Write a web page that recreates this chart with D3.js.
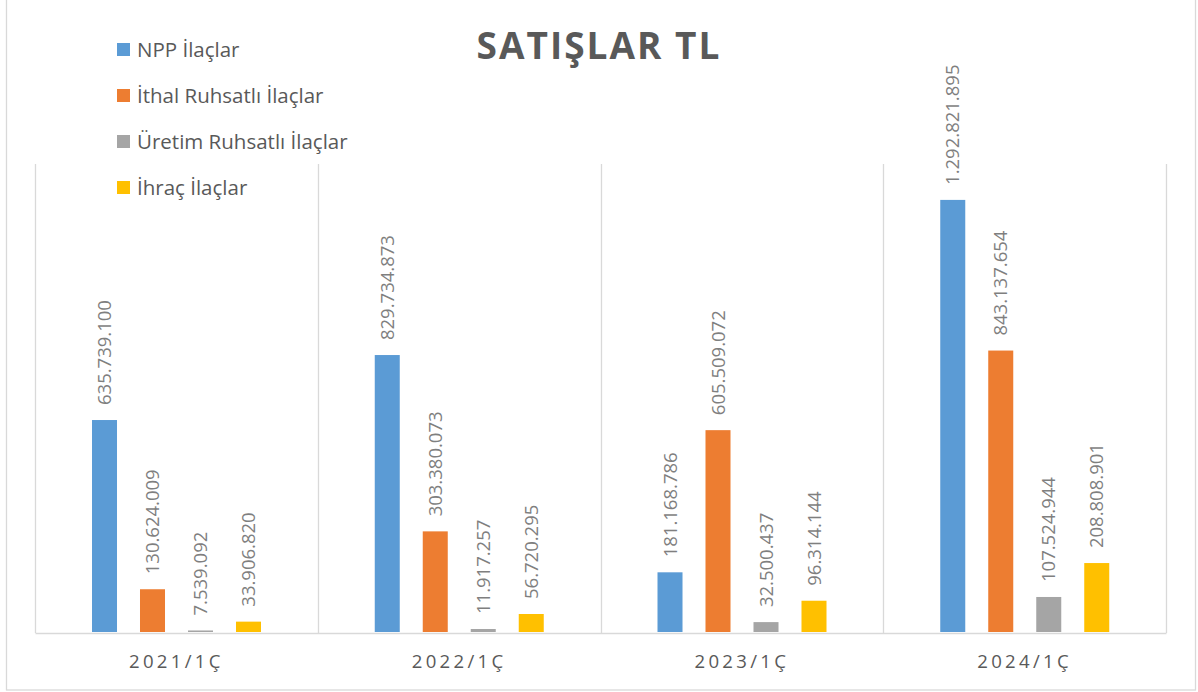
<!DOCTYPE html>
<html>
<head>
<meta charset="utf-8">
<script src="https://cdn.jsdelivr.net/npm/d3@7"></script>
<style>
    body { margin: 0; background: #fff; }
    #chart { width: 1198px; height: 692px; }
    text { font-family: "Open Sans", "Noto Sans", sans-serif; }
</style>
</head>
<body>
<div id="chart"></div>
<script>

// data
let periods = ['2021/1Ç', '2022/1Ç', '2023/1Ç', '2024/1Ç'];
let seriesNames = ['NPP İlaçlar', 'İthal Ruhsatlı İlaçlar', 'Üretim Ruhsatlı İlaçlar', 'İhraç İlaçlar'];
let nppValues = [635739100, 829734873, 181168786, 1292821895];
let ithalValues = [130624009, 303380073, 605509072, 843137654];
let uretimValues = [7539092, 11917257, 32500437, 107524944];
let ihracValues = [33906820, 56720295, 96314144, 208808901];
let colors = ['#5B9BD5', '#ED7D31', '#A5A5A5', '#FFC000'];
let yMax = 1400000000;


class SalesChart {

    constructor(parentElement) {
        this.parentElement = parentElement;
        this.series = [nppValues, ithalValues, uretimValues, ihracValues];
        this.initVis();
    }

    initVis() {
        let vis = this;

        vis.width = 1198;
        vis.height = 692;
        vis.plot = {left: 35, right: 1166, top: 164, bottom: 633};

        vis.svg = d3.select('#' + vis.parentElement).append('svg')
            .attr('width', vis.width)
            .attr('height', vis.height);

        // chart border
        vis.svg.append('rect')
            .attr('x', 6.5)
            .attr('y', -2)
            .attr('width', 1189)
            .attr('height', 692)
            .attr('fill', 'none')
            .attr('stroke', '#d9d9d9')
            .attr('stroke-width', 1.3);

        // title
        vis.svg.append('text')
            .text('SATIŞLAR TL')
            .attr('x', vis.width / 2)
            .attr('y', 59)
            .attr('text-anchor', 'middle')
            .attr('font-size', '37px')
            .attr('font-weight', 'bold')
            .attr('letter-spacing', '2px')
            .attr('fill', '#595959');

        vis.formatter = d3.formatLocale({decimal: ',', thousands: '.', grouping: [3], currency: ['', '']}).format(',d');

        vis.x0 = d3.scaleBand()
            .domain(periods)
            .range([vis.plot.left, vis.plot.right]);

        vis.x1 = d3.scaleBand()
            .domain(seriesNames)
            .range([57, 226])
            .paddingInner(0.479);

        vis.y = d3.scaleLinear()
            .domain([0, yMax])
            .range([vis.plot.bottom, vis.plot.top]);

        vis.drawGrid();
        vis.drawBars();
        vis.drawLegend();
    }

    drawGrid() {
        let vis = this;

        // vertical lines between categories
        let edges = periods.map(p => vis.x0(p)).concat([vis.plot.right]);
        vis.svg.append('g').selectAll('line')
            .data(edges)
            .enter().append('line')
            .attr('x1', d => Math.round(d) + 0.5)
            .attr('x2', d => Math.round(d) + 0.5)
            .attr('y1', vis.plot.top)
            .attr('y2', vis.plot.bottom)
            .attr('stroke', '#d9d9d9')
            .attr('stroke-width', 1.3);

        // category axis
        let xAxis = d3.axisBottom(vis.x0).tickSize(0).tickPadding(22);
        let axisGroup = vis.svg.append('g')
            .attr('class', 'axis x-axis')
            .attr('transform', `translate(0, ${vis.plot.bottom})`)
            .call(xAxis);

        axisGroup.select('.domain')
            .attr('stroke', '#d9d9d9')
            .attr('stroke-width', 1.6);

        axisGroup.selectAll('text')
            .attr('font-size', '18.6px')
            .attr('letter-spacing', '3.3px')
            .attr('fill', '#595959')
            .attr('font-family', '"Open Sans", sans-serif');
    }

    drawBars() {
        let vis = this;

        let table = [];
        periods.forEach((p, i) => {
            seriesNames.forEach((s, j) => {
                table.push({period: p, name: s, value: vis.series[j][i], color: colors[j]});
            });
        });

        vis.svg.append('g').selectAll('rect')
            .data(table)
            .enter().append('rect')
            .attr('x', d => vis.x0(d.period) + vis.x1(d.name))
            .attr('y', d => vis.y(d.value))
            .attr('width', vis.x1.bandwidth())
            .attr('height', d => vis.plot.bottom - 1 - vis.y(d.value))
            .attr('fill', d => d.color);

        // value labels, rotated
        vis.svg.append('g').selectAll('text')
            .data(table)
            .enter().append('text')
            .text(d => vis.formatter(d.value))
            .attr('transform', d => {
                let cx = vis.x0(d.period) + vis.x1(d.name) + vis.x1.bandwidth() / 2;
                let cy = vis.y(d.value) - 15;
                return `translate(${cx}, ${cy}) rotate(-90)`;
            })
            .attr('dy', '0.36em')
            .attr('text-anchor', 'start')
            .attr('font-size', '18.5px')
            .attr('fill', '#7f7f7f');
    }

    drawLegend() {
        let vis = this;

        let legend = vis.svg.append('g').selectAll('g')
            .data(seriesNames)
            .enter().append('g')
            .attr('transform', (d, i) => `translate(117, ${49.5 + i * 46})`);

        legend.append('rect')
            .attr('x', 0)
            .attr('y', -6.5)
            .attr('width', 13)
            .attr('height', 13)
            .attr('fill', (d, i) => colors[i]);

        legend.append('text')
            .text(d => d)
            .attr('x', 20)
            .attr('y', 0)
            .attr('dy', '0.36em')
            .attr('font-size', '20.5px')
            .attr('fill', '#595959');
    }
}

new SalesChart('chart');

</script>
</body>
</html>
